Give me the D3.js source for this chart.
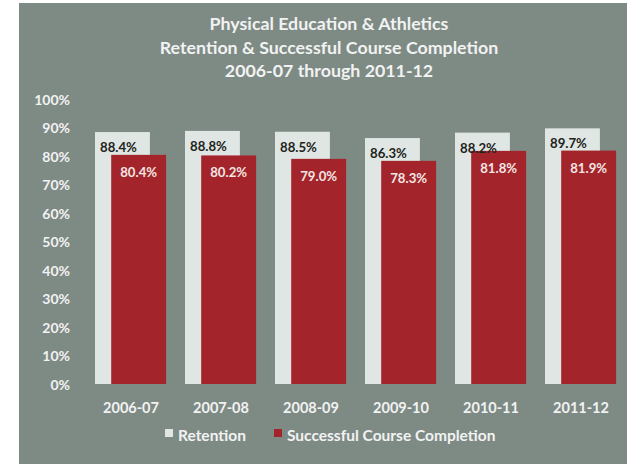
<!DOCTYPE html>
<html>
<head>
<meta charset="utf-8">
<script src="https://cdn.jsdelivr.net/npm/d3@7/dist/d3.min.js"></script>
<style>
  html, body { margin: 0; padding: 0; background: #ffffff; }
  svg { display: block; }
  text { font-family: Lato, "Open Sans", sans-serif; font-weight: bold; }
</style>
</head>
<body>
<svg id="chart" width="627" height="464"></svg>
<script>
// Academic years shown along the x axis
const categories = ["2006-07", "2007-08", "2008-09", "2009-10", "2010-11", "2011-12"];
// Rates in percent
const retention = [88.4, 88.8, 88.5, 86.3, 88.2, 89.7];
const completion = [80.4, 80.2, 79.0, 78.3, 81.8, 81.9];
const yTicks = [0, 10, 20, 30, 40, 50, 60, 70, 80, 90, 100];
const seriesNames = ["Retention", "Successful Course Completion"];
const titleLines = [
  "Physical Education & Athletics",
  "Retention & Successful Course Completion",
  "2006-07 through 2011-12"
];

const W = 627, H = 464;
const colors = { panel: "#7e8b85", retention: "#dfe6e3", completion: "#a3242b", text: "#f2f2f2", dark: "#1e2320" };
const fontStack = "Lato, 'Open Sans', sans-serif";

const svg = d3.select("#chart");

// chart panel
svg.append("rect").attr("x", 19).attr("y", 3).attr("width", W - 19).attr("height", H - 3)
  .attr("fill", colors.panel);

// title
svg.append("g").selectAll("text").data(titleLines).join("text")
  .attr("x", 329).attr("y", (d, i) => 30 + i * 23.5)
  .attr("text-anchor", "middle").attr("font-size", 17.8).attr("fill", colors.text)
  .text(d => d);

const x = d3.scaleBand().domain(categories).range([86, 626]).paddingInner(0).paddingOuter(0);
const y = d3.scaleLinear().domain([0, 100]).range([384, 99]);

const bw = x.bandwidth();
const barW = bw * 0.61;
const retOffset = bw * 0.10;
const compOffset = bw * 0.28;

// y axis labels
const yAxis = d3.axisLeft(y).tickValues(yTicks).tickFormat(d => d + "%").tickSize(0).tickPadding(0);
const yg = svg.append("g").attr("transform", "translate(70,1)").call(yAxis);
yg.select(".domain").remove();
yg.selectAll("text").attr("font-size", 14).attr("fill", colors.text).attr("font-family", fontStack);

// x axis labels
const xAxis = d3.axisBottom(x).tickSize(0).tickPadding(0);
const xg = svg.append("g").attr("transform", "translate(0,403)").call(xAxis);
xg.select(".domain").remove();
xg.selectAll("text").attr("font-size", 14.5).attr("fill", colors.text).attr("font-family", fontStack);

// retention bars
svg.append("g").selectAll("rect").data(categories).join("rect")
  .attr("x", d => x(d) + retOffset)
  .attr("y", (d, i) => y(retention[i]))
  .attr("width", barW)
  .attr("height", (d, i) => y(0) - y(retention[i]))
  .attr("fill", colors.retention);

// completion bars
svg.append("g").selectAll("rect").data(categories).join("rect")
  .attr("x", d => x(d) + compOffset)
  .attr("y", (d, i) => y(completion[i]))
  .attr("width", barW)
  .attr("height", (d, i) => y(0) - y(completion[i]))
  .attr("fill", colors.completion);

// value labels
svg.append("g").selectAll("text").data(categories).join("text")
  .attr("x", d => x(d) + retOffset + barW / 2 - 4)
  .attr("y", (d, i) => y(retention[i]) + 20)
  .attr("text-anchor", "middle").attr("font-size", 13.2).attr("fill", colors.dark)
  .text((d, i) => retention[i].toFixed(1) + "%");

svg.append("g").selectAll("text").data(categories).join("text")
  .attr("x", d => x(d) + compOffset + barW / 2)
  .attr("y", (d, i) => y(completion[i]) + 22)
  .attr("text-anchor", "middle").attr("font-size", 13.2).attr("fill", "#f3e6e3")
  .text((d, i) => completion[i].toFixed(1) + "%");

// legend
const legend = svg.append("g");
const legendItems = [
  { name: seriesNames[0], color: colors.retention, x: 165 },
  { name: seriesNames[1], color: colors.completion, x: 274 }
];
legendItems.forEach(it => {
  legend.append("rect").attr("x", it.x).attr("y", 429).attr("width", 8).attr("height", 8).attr("fill", it.color);
  legend.append("text").attr("x", it.x + 13).attr("y", 441).attr("font-size", 15.5)
    .attr("fill", colors.text).text(it.name);
});
</script>
</body>
</html>
